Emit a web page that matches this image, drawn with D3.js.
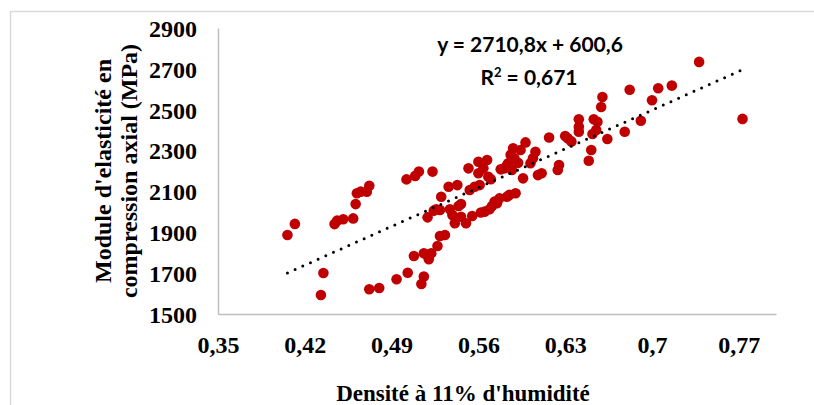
<!DOCTYPE html>
<html>
<head>
<meta charset="utf-8">
<script src="https://cdn.jsdelivr.net/npm/d3@7/dist/d3.min.js"></script>
<style>
  html, body { margin: 0; padding: 0; background: #ffffff; }
  svg { display: block; }
</style>
</head>
<body>
<svg id="chart" width="814" height="405"></svg>
<script>
// Wood density at 11% moisture vs. axial compression modulus
const densite = [
  0.406, 0.412, 0.433, 0.435, 0.444, 0.446, 0.451, 0.459, 0.461, 0.462,
  0.465, 0.470, 0.472, 0.472, 0.480, 0.494, 0.503, 0.502, 0.508, 0.509,
  0.512, 0.514, 0.516, 0.516, 0.519, 0.519, 0.520, 0.522, 0.523, 0.524,
  0.526, 0.527, 0.529, 0.529, 0.530, 0.533, 0.536, 0.537, 0.539, 0.541,
  0.543, 0.544, 0.546, 0.546, 0.550, 0.552, 0.553, 0.555, 0.557, 0.560,
  0.560, 0.561, 0.562, 0.564, 0.565, 0.567, 0.568, 0.569, 0.570, 0.571,
  0.573, 0.575, 0.577, 0.578, 0.581, 0.583, 0.583, 0.584, 0.585, 0.586,
  0.587, 0.588, 0.589, 0.590, 0.592, 0.594, 0.596, 0.598, 0.602, 0.604,
  0.606, 0.608, 0.611, 0.617, 0.624, 0.625, 0.630, 0.632, 0.635, 0.641,
  0.641, 0.641, 0.649, 0.651, 0.652, 0.653, 0.655, 0.656, 0.659, 0.660,
  0.664, 0.678, 0.682, 0.691, 0.700, 0.705, 0.716, 0.738, 0.773
];
const module = [
  1887, 1941, 1593, 1701, 1940, 1957, 1964, 1968, 2038, 2091,
  2099, 2099, 2128, 1621, 1627, 1670, 1702, 2159, 1784, 2176,
  2197, 1647, 1683, 1797, 1789, 1973, 1768, 1797, 2197, 2006,
  2013, 1833, 2009, 1882, 2074, 1887, 2123, 2013, 1985, 1944,
  2131, 2029, 2038, 1976, 1944, 2213, 2107, 1980, 2123, 2245,
  2189, 2131, 1997, 2213, 2001, 2254, 2172, 2013, 2160, 2029,
  2050, 2042, 2066, 2208, 2213, 2228, 2074, 2238, 2083, 2279,
  2205, 2311, 2262, 2091, 2240, 2303, 2164, 2340, 2238, 2262,
  2294, 2180, 2189, 2364, 2205, 2229, 2371, 2360, 2345, 2392,
  2417, 2453, 2250, 2303, 2381, 2453, 2401, 2441, 2513, 2562,
  2357, 2392, 2598, 2446, 2546, 2605, 2618, 2734, 2455
];

const xTicks = [0.35, 0.42, 0.49, 0.56, 0.63, 0.70, 0.77];
const xTickLabels = ["0,35", "0,42", "0,49", "0,56", "0,63", "0,7", "0,77"];
const yTicks = [1500, 1700, 1900, 2100, 2300, 2500, 2700, 2900];
const yTickLabels = ["1500", "1700", "1900", "2100", "2300", "2500", "2700", "2900"];

// Linear trend line
const slope = 2710.8;
const intercept = 600.6;
const r2Label = "0,671";
const equationLabel = "y = 2710,8x + 600,6";

const xTitle = "Densité à 11% d'humidité";
const yTitleLines = ["Module d'elasticité en", "compression axial (MPa)"];

const serif = "'Liberation Serif', 'Times New Roman', serif";
const sans = "Lato, Carlito, Calibri, sans-serif";

const svg = d3.select("#chart");
const plot = { left: 218, right: 776, top: 28, bottom: 314 };

// Outer frame
svg.append("rect")
  .attr("x", 10.5).attr("y", 11.5)
  .attr("width", 900).attr("height", 500)
  .attr("fill", "none")
  .attr("stroke", "#d9d9d9")
  .attr("stroke-width", 1.5);

const x = d3.scaleLinear().domain([0.35, 0.80]).range([plot.left, plot.right]);
const y = d3.scaleLinear().domain([1500, 2900]).range([plot.bottom, plot.top]);

// Axes
const xAxis = d3.axisBottom(x)
  .tickValues(xTicks)
  .tickFormat((d, i) => xTickLabels[i])
  .tickSize(0)
  .tickSizeOuter(0);
const gx = svg.append("g")
  .attr("transform", `translate(0,${plot.bottom})`)
  .call(xAxis);
gx.select(".domain").attr("stroke", "#bfbfbf").attr("stroke-width", 1.5);
gx.selectAll("text")
  .attr("y", 31).attr("dy", "0.35em")
  .attr("fill", "#000")
  .style("font-family", serif)
  .style("font-weight", "bold")
  .style("font-size", "24px");

const yAxis = d3.axisLeft(y)
  .tickValues(yTicks)
  .tickFormat((d, i) => yTickLabels[i])
  .tickSize(0)
  .tickSizeOuter(0);
const gy = svg.append("g")
  .attr("transform", `translate(${plot.left},0)`)
  .call(yAxis);
gy.select(".domain").attr("stroke", "#bfbfbf").attr("stroke-width", 1.5);
gy.selectAll("text")
  .attr("x", -21).attr("dy", "0.35em")
  .attr("fill", "#000")
  .style("font-family", serif)
  .style("font-weight", "bold")
  .style("font-size", "24px");

// Scatter points
const pts = densite.map((d, i) => ({ d: d, m: module[i] }));
svg.append("g")
  .selectAll("circle")
  .data(pts)
  .join("circle")
  .attr("cx", p => x(p.d))
  .attr("cy", p => y(p.m))
  .attr("r", 5.3)
  .attr("fill", "#c00000");

// Dotted trend line across the data range
const [xmin, xmax] = d3.extent(densite);
const trend = [xmin, xmax].map(v => ({ d: v, m: slope * v + intercept }));
svg.append("path")
  .datum(trend)
  .attr("d", d3.line().x(p => x(p.d)).y(p => y(p.m)))
  .attr("fill", "none")
  .attr("stroke", "#000")
  .attr("stroke-width", 3)
  .attr("stroke-linecap", "round")
  .attr("stroke-dasharray", "0 8.4");

// Equation and R²
svg.append("text")
  .attr("x", 530).attr("y", 52)
  .attr("text-anchor", "middle")
  .style("font-family", sans)
  .style("font-weight", "bold")
  .style("font-size", "21px")
  .text(equationLabel);
const r2 = svg.append("text")
  .attr("x", 529).attr("y", 85)
  .attr("text-anchor", "middle")
  .style("font-family", sans)
  .style("font-weight", "bold")
  .style("font-size", "21px");
r2.append("tspan").text("R");
r2.append("tspan").attr("dy", -8).style("font-size", "13px").text("2");
r2.append("tspan").attr("dy", 8).text(" = " + r2Label);

// Axis titles
svg.append("text")
  .attr("x", 463).attr("y", 401)
  .attr("text-anchor", "middle")
  .style("font-family", serif)
  .style("font-weight", "bold")
  .style("font-size", "23px")
  .text(xTitle);

const yTitle = svg.append("text")
  .attr("transform", "translate(111,171) rotate(-90)")
  .attr("text-anchor", "middle")
  .style("font-family", serif)
  .style("font-weight", "bold")
  .style("font-size", "24px");
yTitleLines.forEach((line, i) => {
  yTitle.append("tspan")
    .attr("x", 0)
    .attr("dy", i === 0 ? 0 : 26)
    .text(line);
});
</script>
</body>
</html>
